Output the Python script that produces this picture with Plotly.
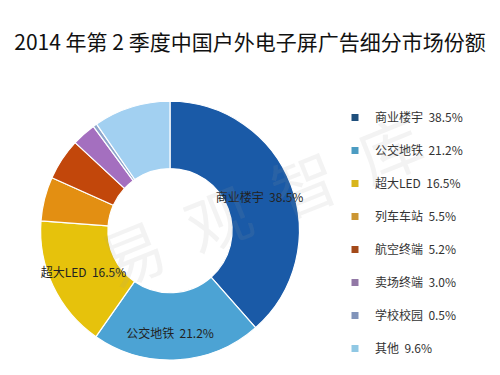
import plotly.graph_objects as go

categories = ["商业楼宇", "公交地铁", "超大LED", "列车车站", "航空终端", "卖场终端", "学校校园", "其他"]
shares = [38.5, 21.2, 16.5, 5.5, 5.2, 3.0, 0.5, 9.6]
colors = ["#1a5aa7", "#4ca3d4", "#e6c20c", "#e38f12", "#c2470b", "#a46fbf", "#8ea5cb", "#a2d0f1"]
legend_colors = ["#1f4f7c", "#4c9cc2", "#d8b51c", "#cc9632", "#a44a1a", "#9278a6", "#8194ba", "#90c8e4"]
show_inside = [True, True, True, False, False, False, False, False]
title = "2014 年第 2 季度中国户外电子屏广告细分市场份额"

FONT = "Noto Sans CJK SC, Microsoft YaHei, sans-serif"
SP = "\u00a0\u00a0"

texts = [f"{c}{SP}{v:.1f}%" if s else "" for c, v, s in zip(categories, shares, show_inside)]

fig = go.Figure()
fig.add_trace(go.Pie(
    labels=categories,
    values=shares,
    text=texts,
    texttemplate="%{text}",
    textposition="inside",
    insidetextorientation="horizontal",
    textfont=dict(family=FONT, size=12, color="#222222"),
    hole=0.48,
    sort=False,
    direction="clockwise",
    rotation=0,
    marker=dict(colors=colors, line=dict(color="white", width=1.2)),
    showlegend=False,
    hoverinfo="label+percent",
    domain=dict(x=[0.072, 0.608], y=[0.040, 0.730]),
))

for c, v, col in zip(categories, shares, legend_colors):
    fig.add_trace(go.Scatter(
        x=[None], y=[None], mode="markers",
        marker=dict(symbol="square", size=7, color=col),
        name=f"{c}{SP}{v:.1f}%",
        legendgroup=c,
        showlegend=True,
    ))

fig.update_layout(
    width=500, height=375,
    margin=dict(l=0, r=0, t=0, b=0),
    paper_bgcolor="white", plot_bgcolor="white",
    title=dict(text=title, x=0.5, xanchor="center", y=1 - 43 / 375, yanchor="middle",
               font=dict(family=FONT, size=21, color="#111111")),
    xaxis=dict(visible=False), yaxis=dict(visible=False),
    legend=dict(x=0.67, y=1 - 103 / 375, xanchor="left", yanchor="top",
                font=dict(family=FONT, size=12, color="#333333"),
                tracegroupgap=14, itemwidth=30, bgcolor="rgba(0,0,0,0)"),
    uniformtext=dict(minsize=12, mode="show"),
    annotations=[dict(text="易  观  智  库", x=0.52, y=0.47, xref="paper", yref="paper",
                      showarrow=False, textangle=-22,
                      font=dict(family=FONT, size=64, color="rgba(160,160,160,0.12)"))],
)

fig.write_html("out.html")
